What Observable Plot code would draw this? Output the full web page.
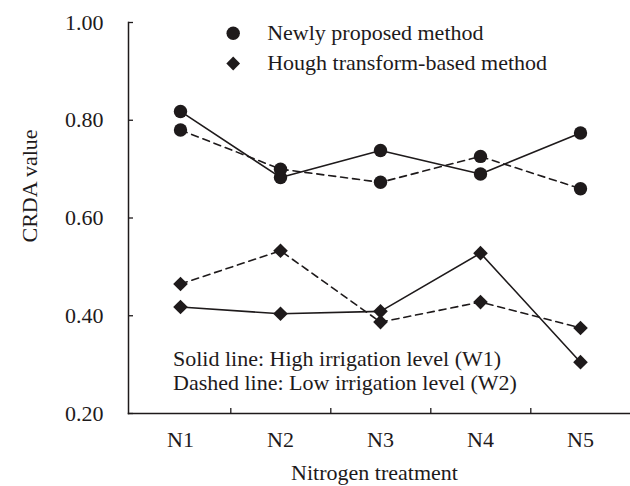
<!DOCTYPE html>
<html>
<head>
<meta charset="utf-8">
<script src="https://cdn.jsdelivr.net/npm/d3@7"></script>
<script src="https://cdn.jsdelivr.net/npm/@observablehq/plot@0.6"></script>
<style>
  html, body { margin: 0; padding: 0; background: #fff; }
</style>
</head>
<body>
<div id="chart"></div>
<script>
const categories = ["N1", "N2", "N3", "N4", "N5"];
const newW1 = [0.818, 0.683, 0.738, 0.690, 0.774];
const newW2 = [0.780, 0.700, 0.673, 0.726, 0.660];
const houghW1 = [0.418, 0.404, 0.409, 0.528, 0.305];
const houghW2 = [0.465, 0.533, 0.387, 0.428, 0.375];
const yTicks = [0.2, 0.4, 0.6, 0.8, 1.0];
const legendLabels = ["Newly proposed method", "Hough transform-based method"];
const noteLabels = ["Solid line: High irrigation level (W1)", "Dashed line: Low irrigation level (W2)"];

const rows = (vals, method, level) => vals.map((v, i) => ({cat: categories[i], v, method, level}));
const sNewW1 = rows(newW1, "new", "W1");
const sNewW2 = rows(newW2, "new", "W2");
const sHoughW1 = rows(houghW1, "hough", "W1");
const sHoughW2 = rows(houghW2, "hough", "W2");

const ink = "#1e1a1b";
const FS = 22;
const W = 630, H = 486, mL = 128, mR = -1, mT = 22, mB = 73;
const step = (W - mL - mR) / categories.length;

const chart = Plot.plot({
  width: W, height: H,
  marginLeft: mL, marginRight: mR, marginTop: mT, marginBottom: mB,
  style: {fontFamily: "'Liberation Serif', 'Times New Roman', serif", fontSize: FS + "px", color: ink, background: "#fff", overflow: "visible"},
  x: {type: "point", domain: categories, padding: 0.5, label: null},
  y: {domain: [0.2, 1.0], label: null},
  marks: [
    Plot.axisY({ticks: yTicks, tickFormat: d => d.toFixed(2), tickSize: -5, tickPadding: 30, stroke: ink, strokeWidth: 1.3, fontSize: FS, label: null}),
    Plot.axisX({tickSize: 0, tickPadding: 18, fontSize: FS, label: null}),
    Plot.ruleX(categories.slice(0, 4), {y1: 0.2, y2: 0.21, dx: step / 2, stroke: ink, strokeWidth: 1.3}),
    Plot.frame({anchor: "left", stroke: ink, strokeWidth: 1.5}),
    Plot.frame({anchor: "bottom", stroke: ink, strokeWidth: 1.5}),
    Plot.line(sNewW1, {x: "cat", y: "v", stroke: ink, strokeWidth: 1.6}),
    Plot.line(sHoughW1, {x: "cat", y: "v", stroke: ink, strokeWidth: 1.6}),
    Plot.line(sNewW2, {x: "cat", y: "v", stroke: ink, strokeWidth: 1.6, strokeDasharray: "7,5"}),
    Plot.line(sHoughW2, {x: "cat", y: "v", stroke: ink, strokeWidth: 1.6, strokeDasharray: "7,5"}),
    Plot.dot([...sNewW1, ...sNewW2], {x: "cat", y: "v", r: 6.7, fill: ink, stroke: "none", symbol: "circle"}),
    Plot.dot([...sHoughW1, ...sHoughW2], {x: "cat", y: "v", r: 6.6, fill: ink, stroke: "none", symbol: "diamond2"}),
    // legend
    Plot.dot([legendLabels[0]], {frameAnchor: "top-left", dx: 104.7, dy: 10.7, r: 6.7, fill: ink, symbol: "circle"}),
    Plot.dot([legendLabels[1]], {frameAnchor: "top-left", dx: 104.7, dy: 41, r: 6.2, fill: ink, symbol: "diamond2"}),
    Plot.text([legendLabels[0]], {text: d => d, frameAnchor: "top-left", dx: 138.7, dy: 10.5, textAnchor: "start", lineAnchor: "middle", fontSize: FS, fill: ink}),
    Plot.text([legendLabels[1]], {text: d => d, frameAnchor: "top-left", dx: 138.7, dy: 40.5, textAnchor: "start", lineAnchor: "middle", fontSize: FS, fill: ink}),
    // notes
    Plot.text([noteLabels[0]], {text: d => d, frameAnchor: "bottom-left", dx: 44.5, dy: -55, textAnchor: "start", lineAnchor: "middle", fontSize: FS, fill: ink}),
    Plot.text([noteLabels[1]], {text: d => d, frameAnchor: "bottom-left", dx: 44.5, dy: -30.5, textAnchor: "start", lineAnchor: "middle", fontSize: FS, fill: ink}),
    // axis titles
    Plot.text(["Nitrogen treatment"], {text: d => d, frameAnchor: "bottom", dx: -5.5, dy: 59.5, lineAnchor: "middle", fontSize: FS, fill: ink}),
    Plot.text(["CRDA value"], {text: d => d, frameAnchor: "left", dx: -99, dy: 24.5, rotate: -90, lineAnchor: "middle", fontSize: FS, fill: ink})
  ]
});
document.getElementById("chart").appendChild(chart);
</script>
</body>
</html>
